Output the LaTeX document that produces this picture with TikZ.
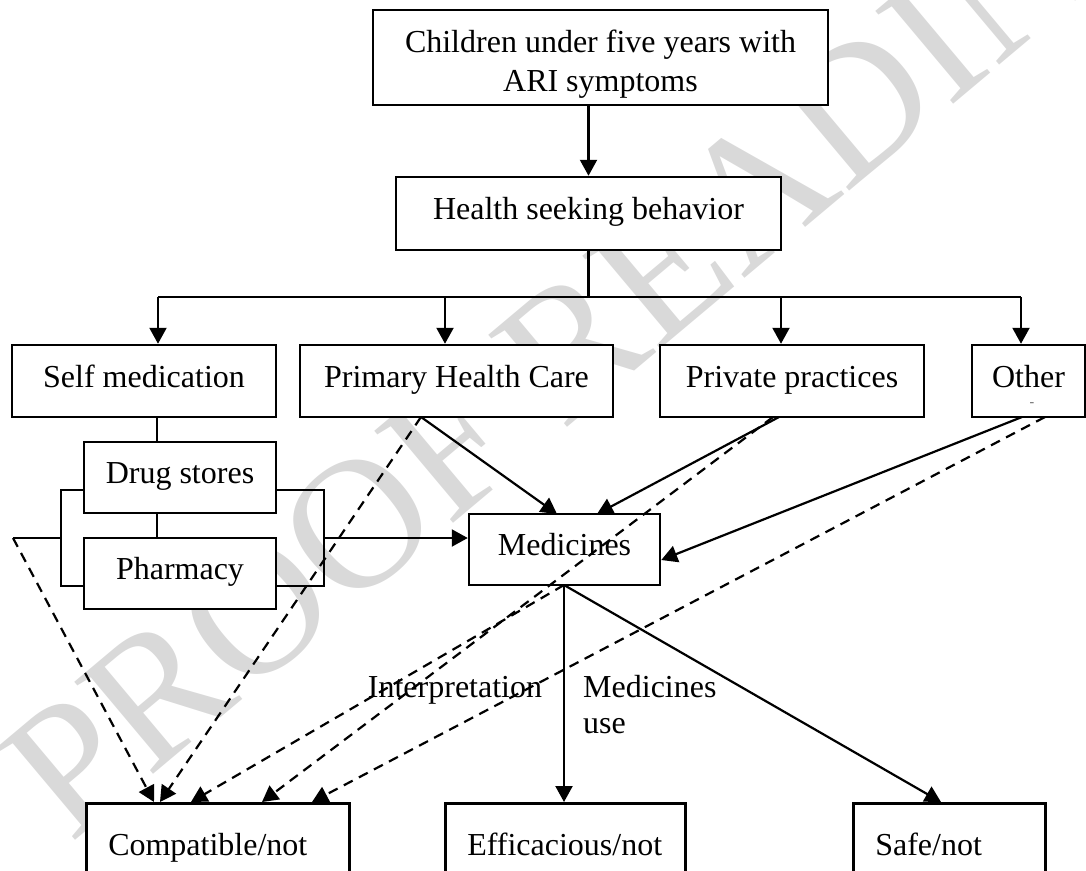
\documentclass[tikz,border=0pt]{standalone}
\usepackage{fontspec}
\setmainfont{Liberation Serif}
\usetikzlibrary{arrows.meta}
\begin{document}
\begin{tikzpicture}[x=1pt,y=-1pt,
  every node/.append style={font=\fontsize{32}{39}\selectfont},
  box/.style={draw, line width=2.5pt, fill=white, inner sep=0pt, align=center, text height=22pt, text depth=10pt},
  lowbox/.style={draw, line width=2.5pt, fill=white, inner ysep=0pt, inner xsep=22pt, align=left, anchor=north west, minimum height=82pt, text height=22pt, text depth=0pt},
  ln/.style={line width=2.2pt},
  arr/.style={line width=2.2pt, -{Triangle[length=16pt,width=17pt]}},
  dsh/.style={line width=2.2pt, dash pattern=on 10pt off 7pt, -{Triangle[length=16pt,width=17pt]}},
  lbl/.style={inner sep=0pt},
]
\useasboundingbox (0,0) rectangle (1086,870);
\clip (0,0) rectangle (1086,870);
% watermark
\node[rotate=40, anchor=base west, text=black!15, inner sep=0pt, font=\fontsize{185}{185}\selectfont] (wm) at (70,845) {PROOF READING};
% boxes
\node[draw, line width=2.5pt, fill=white, inner sep=0pt, minimum width=455pt, minimum height=95pt] (top) at (600.5,57.5) {\raisebox{-12.5pt}[0pt][0pt]{\begin{tabular}{@{}c@{}}Children under five years with\\ARI symptoms\end{tabular}}};
\node[box, minimum width=385pt, minimum height=73pt] (hsb) at (588.5,213.5) {Health seeking behavior};
\node[box, minimum width=264pt, minimum height=72pt] (self) at (144,381) {Self medication};
\node[box, minimum width=313pt, minimum height=72pt] (phc) at (456.5,381) {Primary Health Care};
\node[box, minimum width=264pt, minimum height=72pt] (pp) at (792,381) {Private practices};
\node[box, minimum width=113pt, minimum height=72pt] (other) at (1028.5,381) {Other};
\node[lbl, font=\fontsize{14}{14}\selectfont, text=black!60] (odash) at (1032,405) {-};
\node[box, minimum width=192pt, minimum height=71pt] (drug) at (180,477.5) {Drug stores};
\node[box, minimum width=192pt, minimum height=71pt] (pharm) at (180,573.5) {Pharmacy};
\node[box, minimum width=191pt, minimum height=71pt] (med) at (564.5,549.5) {Medicines};
\node[lowbox, text width=219pt] (comp) at (85,802) {Compatible/not};
\node[lowbox, text width=196pt] (eff) at (444,802) {Efficacious/not};
\node[lowbox, text width=148pt] (safe) at (852,802) {Safe/not};
% labels
\node[lbl, anchor=base] (interp) at (455,697) {Interpretation};
\node[lbl, anchor=base west, align=left, font=\fontsize{32}{36}\selectfont] (muse) at (583,733) {Medicines\\use};
% coordinates
\coordinate (busL) at (158,297);
\coordinate (b2) at (445,297);
\coordinate (b3) at (781,297);
\coordinate (busR) at (1021,297);
\coordinate (sv) at (157,430);
\coordinate (lbt) at (61,490);
\coordinate (lbb) at (61,586);
\coordinate (rbt) at (324,490);
\coordinate (rbb) at (324,586);
\coordinate (rbm) at (324,538);
\coordinate (lft) at (13,538);
\coordinate (phcS) at (421,417);
\coordinate (ppS) at (779,417);
\coordinate (ppD) at (773,417);
\coordinate (otS) at (1022,417);
\coordinate (otD) at (1045,417);
\coordinate (medS) at (564,585);
% connectors
\draw[arr] (hsb.north |- top.south) -- (hsb.north);
\draw[ln] (hsb.south) -- (hsb.south |- busL);
\draw[ln] (busL) -- (busR);
\draw[arr] (busL) -- (busL |- self.north);
\draw[arr] (b2) -- (b2 |- phc.north);
\draw[arr] (b3) -- (b3 |- pp.north);
\draw[arr] (busR) -- (busR |- other.north);
\draw[ln] (self.south -| sv) -- (drug.north -| sv);
\draw[ln] (drug.south -| sv) -- (pharm.north -| sv);
\draw[ln] (drug.west |- lbt) -- (lbt) -- (lbb) -- (pharm.west |- lbb);
\draw[ln] (drug.east |- rbt) -- (rbt) -- (rbb) -- (pharm.east |- rbb);
\draw[arr] (rbm) -- (med.west |- rbm);
\draw[ln] (lft) -- (lbt |- lft);
\draw[arr] (phcS) -- (557,514);
\draw[arr] (ppS) -- (597,514);
\draw[arr] (otS) -- (med.east |- 0,560);
\draw[arr] (medS) -- (medS |- eff.north);
\draw[arr] (medS) -- (941,802);
\draw[dsh] (lft) -- (154,802);
\draw[dsh] (phcS) -- (160,802);
\draw[dsh] (ppD) -- (262,802);
\draw[dsh] (otD) -- (312,802);
\draw[dsh] (medS) -- (191,802);
\end{tikzpicture}
\end{document}
